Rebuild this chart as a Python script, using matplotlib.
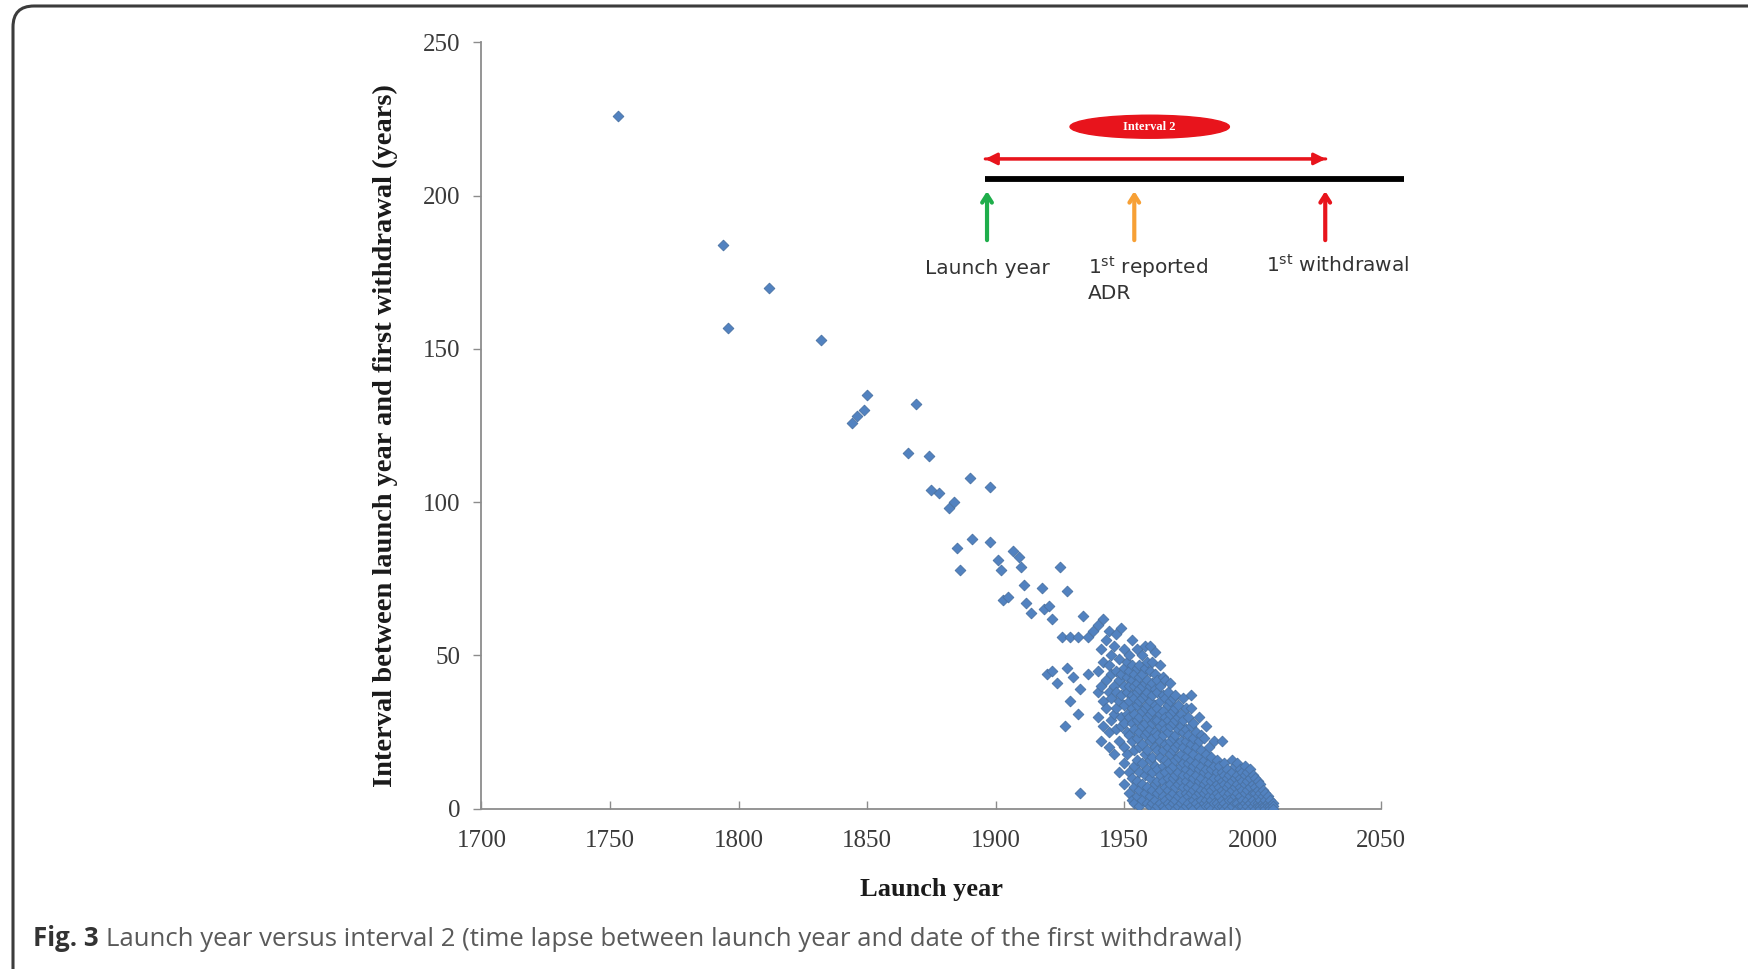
import numpy as np
import matplotlib.pyplot as plt
from matplotlib.patches import Ellipse, FancyBboxPatch

# launch year vs interval (years)
tail_points = [
    (1753, 226), (1794, 184), (1796, 157), (1812, 170), (1832, 153),
    (1844, 126), (1846, 128), (1849, 130), (1850, 135), (1866, 116),
    (1869, 132), (1874, 115), (1875, 104), (1878, 103), (1882, 98),
    (1884, 100), (1890, 108), (1898, 105), (1885, 85), (1891, 88),
    (1898, 87), (1886, 78), (1901, 81), (1902, 78), (1903, 68),
    (1905, 69), (1907, 84), (1909, 82), (1910, 79), (1911, 73),
    (1912, 67), (1914, 64), (1918, 72), (1919, 65), (1921, 66),
    (1922, 62), (1925, 79), (1928, 71), (1926, 56), (1929, 56),
    (1932, 56), (1934, 63), (1936, 56), (1938, 58), (1920, 44),
    (1922, 45), (1924, 41), (1928, 46), (1930, 43), (1933, 39),
    (1936, 44), (1929, 35), (1932, 31), (1927, 27), (1933, 5),
]

cluster_1940_1959 = [
    (1940, [60, 45, 38, 30]),
    (1941, [52, 40, 22]),
    (1942, [62, 48, 35, 27]),
    (1943, [55, 42, 33]),
    (1944, [58, 47, 38, 25, 20]),
    (1945, [50, 44, 36, 29]),
    (1946, [53, 40, 31, 18]),
    (1947, [57, 45, 38, 33, 26]),
    (1948, [49, 42, 35, 22, 12]),
    (1949, [59, 44, 37, 30, 27]),
    (1950, [52, 46, 40, 34, 28, 20, 15, 8]),
    (1951, [48, 43, 38, 31, 25, 18]),
    (1952, [50, 45, 40, 35, 30, 24, 12, 5]),
    (1953, [55, 47, 42, 37, 33, 28, 22, 10, 3]),
    (1954, [44, 40, 36, 31, 26, 19, 14, 7, 2]),
    (1955, [52, 46, 41, 38, 34, 29, 23, 16, 9, 4]),
    (1956, [47, 43, 39, 35, 30, 25, 20, 12, 6, 1]),
    (1957, [50, 44, 40, 36, 32, 27, 21, 15, 8, 3]),
    (1958, [53, 46, 41, 37, 33, 28, 24, 18, 11, 5]),
    (1959, [48, 42, 38, 34, 30, 25, 19, 13, 7, 2]),
]

cluster_1960_1979 = [
    (1960, [53, 45, 40, 35, 31, 26, 22, 16, 10, 4, 1]),
    (1961, [48, 41, 37, 32, 28, 23, 17, 12, 6, 2]),
    (1962, [51, 44, 39, 34, 29, 25, 20, 14, 8, 3, 0]),
    (1963, [42, 38, 33, 29, 24, 19, 13, 9, 5, 1]),
    (1964, [47, 40, 35, 31, 27, 22, 17, 11, 6, 2]),
    (1965, [43, 37, 32, 28, 24, 19, 14, 9, 4, 1]),
    (1966, [42, 36, 30, 26, 21, 16, 12, 7, 3, 0]),
    (1967, [38, 34, 29, 25, 20, 15, 10, 6, 2]),
    (1968, [41, 35, 31, 27, 22, 18, 13, 8, 4, 1]),
    (1969, [36, 32, 28, 23, 19, 14, 10, 5, 2]),
    (1970, [37, 33, 29, 24, 20, 16, 11, 7, 3, 0]),
    (1971, [34, 30, 26, 21, 17, 12, 8, 4, 1]),
    (1972, [31, 27, 22, 18, 14, 9, 5, 2]),
    (1973, [36, 29, 25, 20, 15, 11, 7, 3, 0]),
    (1974, [33, 26, 22, 17, 13, 9, 5, 1]),
    (1975, [30, 24, 19, 15, 11, 7, 4, 2]),
    (1976, [37, 33, 27, 21, 16, 12, 8, 5, 1]),
    (1977, [28, 23, 18, 14, 10, 6, 3, 0]),
    (1978, [25, 20, 15, 11, 7, 4, 2]),
    (1979, [30, 22, 17, 13, 9, 5, 1]),
]

cluster_1980_2008 = [
    (1980, [24, 19, 14, 10, 6, 3, 0]),
    (1981, [23, 16, 12, 8, 5, 2]),
    (1982, [27, 18, 13, 9, 6, 3, 1]),
    (1983, [20, 15, 11, 7, 4, 1]),
    (1984, [17, 13, 9, 6, 3, 0]),
    (1985, [22, 14, 10, 7, 4, 2]),
    (1986, [16, 12, 8, 5, 2, 0]),
    (1987, [14, 10, 7, 4, 1]),
    (1988, [22, 12, 9, 6, 3, 1]),
    (1989, [15, 11, 8, 5, 2, 0]),
    (1990, [13, 10, 7, 4, 1]),
    (1991, [11, 8, 5, 3, 0]),
    (1992, [16, 12, 9, 6, 3, 1]),
    (1993, [14, 10, 7, 4, 2]),
    (1994, [15, 11, 8, 5, 2, 0]),
    (1995, [13, 10, 7, 4, 1]),
    (1996, [12, 9, 6, 3, 1]),
    (1997, [14, 11, 8, 5, 2, 0]),
    (1998, [12, 9, 6, 3, 1]),
    (1999, [13, 10, 7, 4, 2, 0]),
    (2000, [11, 8, 5, 3, 1]),
    (2001, [10, 7, 5, 2, 0]),
    (2002, [9, 6, 4, 2, 1]),
    (2003, [8, 5, 3, 1, 0]),
    (2004, [6, 4, 2, 1]),
    (2005, [5, 3, 1, 0]),
    (2006, [4, 2, 1]),
    (2007, [3, 1, 0]),
    (2008, [2, 1, 0]),
]

x_ticks = [1700, 1750, 1800, 1850, 1900, 1950, 2000, 2050]
y_ticks = [0, 50, 100, 150, 200, 250]

launch = [p[0] for p in tail_points]
interval = [p[1] for p in tail_points]
for yr, vals in cluster_1940_1959 + cluster_1960_1979 + cluster_1980_2008:
    launch += [yr] * len(vals)
    interval += vals
launch = np.array(launch)
interval = np.array(interval)

fig = plt.figure(figsize=(17.49, 9.69), dpi=100)
fig.patch.set_facecolor('white')

# rounded frame around the figure
frame = FancyBboxPatch((13/1749, -0.2), 1.2, 1.2 - 6/969, transform=fig.transFigure,
                       boxstyle='round,pad=0,rounding_size=0.012', mutation_aspect=1749/969,
                       fc='none', ec='#3c3c3c', lw=2.2, clip_on=False)
fig.patches.append(frame)

ax = fig.add_axes([0.2753, 0.1654, 0.5143, 0.7908])
ax.scatter(launch, interval, marker='D', s=30, color='#5282c0', edgecolors='#4a72a3',
           linewidths=0.6, zorder=3)

ax.set_xlim(1700, 2050)
ax.set_ylim(0, 250)
ax.set_xticks(x_ticks)
ax.set_yticks(y_ticks)
for s in ['top', 'right']:
    ax.spines[s].set_visible(False)
for s in ['left', 'bottom']:
    ax.spines[s].set_color('#8c8c8c')
    ax.spines[s].set_linewidth(1.3)

serif = 'Liberation Serif'
ax.tick_params(axis='y', direction='out', length=6, width=1, color='#8c8c8c', pad=9,
               labelsize=18, labelcolor='#3a3a3a')
ax.tick_params(axis='x', direction='in', length=6, width=1, color='#8c8c8c', pad=15,
               labelsize=18, labelcolor='#3a3a3a')
for lab in ax.get_xticklabels() + ax.get_yticklabels():
    lab.set_fontfamily(serif)

ax.set_ylabel('Interval between launch year and first withdrawal (years)',
              fontfamily=serif, fontweight='bold', fontsize=20.5, color='#1a1a1a')
ax.yaxis.set_label_coords(-0.093, 0.487)
ax.set_xlabel('Launch year', fontfamily=serif, fontweight='bold', fontsize=19, color='#1a1a1a')
ax.xaxis.set_label_coords(0.5, -0.09)

# inset diagram
red = '#e8141c'
ax.plot([1896, 2059], [205.6, 205.6], color='black', lw=4.2, solid_capstyle='butt',
        clip_on=False, zorder=4)
ax.annotate('', xy=(1896, 212), xytext=(2028.5, 212),
            arrowprops=dict(arrowstyle='-|>,head_length=0.7,head_width=0.35', color=red,
                            lw=2.2, shrinkA=0, shrinkB=0), annotation_clip=False)
ax.annotate('', xy=(2028.5, 212), xytext=(1896, 212),
            arrowprops=dict(arrowstyle='-|>,head_length=0.7,head_width=0.35', color=red,
                            lw=2.2, shrinkA=0, shrinkB=0), annotation_clip=False)
ax.add_patch(Ellipse((1960, 222.5), 62, 7.5, color=red, zorder=4))
ax.text(1960, 222.5, 'Interval 2', color='white', fontfamily=serif, fontweight='bold',
        fontsize=9, ha='center', va='center', zorder=5)

for xa, col in [(1896.7, '#1fae4b'), (1954, '#f7a035'), (2028.3, red)]:
    ax.annotate('', xy=(xa, 201.5), xytext=(xa, 185.5),
                arrowprops=dict(arrowstyle='->,head_length=0.55,head_width=0.35', color=col,
                                lw=3, shrinkA=0, shrinkB=0), annotation_clip=False)

lab_kw = dict(fontfamily='DejaVu Sans', fontsize=14.5, color='#333333', va='top')
ax.text(1896.7, 179.5, 'Launch year', ha='center', **lab_kw)
ax.text(1935.8, 181, '1$^{\\mathrm{st}}$ reported\nADR', ha='left', linespacing=1.25, **lab_kw)
ax.text(2005.3, 181, '1$^{\\mathrm{st}}$ withdrawal', ha='left', clip_on=False, **lab_kw)

# caption
t1 = fig.text(33/1749, 1 - 952/969, 'Fig. 3', fontfamily='Open Sans', fontweight='bold',
              fontsize=18.5, color='#333333', va='bottom')
ax.annotate('Launch year versus interval 2 (time lapse between launch year and date of the first withdrawal)',
            xy=(1, 0), xycoords=t1, xytext=(5, 0), textcoords='offset points',
            fontfamily='Open Sans', fontsize=18.5, color='#5a5a5a', va='bottom',
            annotation_clip=False)

fig.savefig('out.png', dpi=100)
